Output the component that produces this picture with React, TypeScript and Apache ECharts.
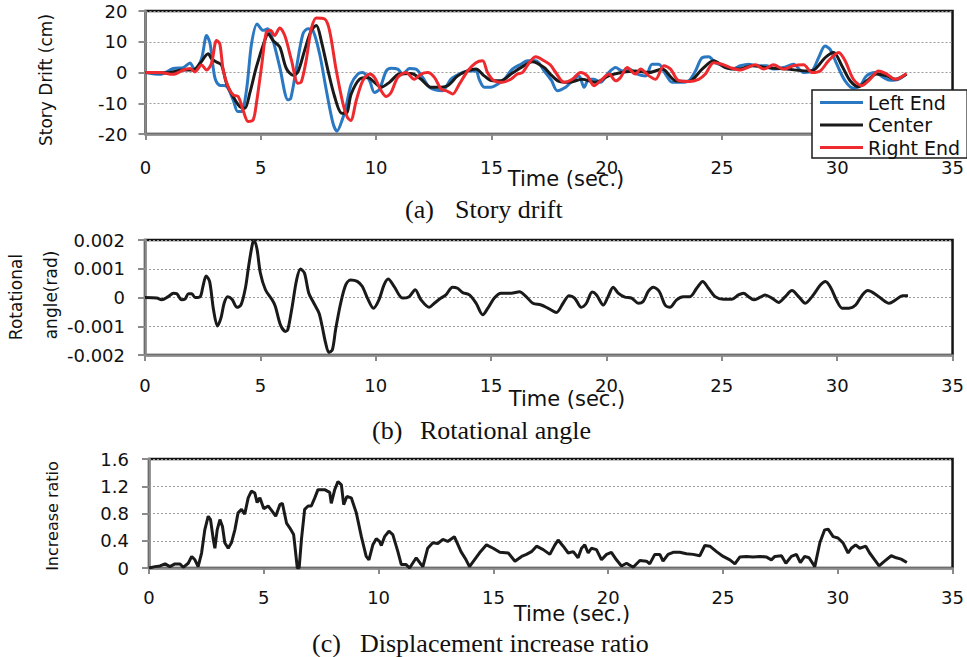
import React, { useEffect, useRef } from "react";
import * as echarts from "echarts";

// ---- Data ----
const timeTicks = [0, 5, 10, 15, 20, 25, 30, 35];
const driftTicks = [-20, -10, 0, 10, 20];
const rotTicks = [-0.002, -0.001, 0, 0.001, 0.002];
const ratioTicks = [0, 0.4, 0.8, 1.2, 1.6];
const legendNames = ["Left End", "Center", "Right End"];

// (a) Story drift (cm) vs time (s)
const leftEnd: number[][] = [
  [0, 0], [0.63, -0.6], [1.2, 1.3], [1.64, 1.6], [1.93, 3.1], [2.14, 0.8], [2.43, 4.5], [2.65, 12], [2.8, 9.4],
  [3.0, -1.4], [3.2, -4.1], [3.5, -4.4], [3.8, -8.9], [4.0, -12.7], [4.16, -12.7], [4.38, -5.7], [4.6, 9.4],
  [4.84, 15.8], [5.1, 13.7], [5.3, 14.2], [5.53, 10.4], [5.82, 1.8], [6.18, -8.9], [6.3, -8.4], [6.54, 1.3],
  [6.83, 12.6], [7.05, 14.2], [7.26, 13.7], [7.55, 6.1], [7.84, -5.7], [8.13, -16.5], [8.3, -19.1], [8.55, -15],
  [8.7, -11], [8.92, -3.8], [9.21, -0.5], [9.42, 0], [9.72, -2.7], [9.93, -6.5], [10.15, -5.4], [10.44, 0.5],
  [10.65, 1.4], [10.94, 1.1], [11.16, -0.5], [11.45, 1.3], [11.73, 1.1], [12.02, -1.6], [12.31, -4.8], [12.6, -5.7],
  [12.88, -5.9], [13.24, -2.2], [13.61, -0.5], [13.97, 0.5], [14.33, 0.5], [14.47, -2.2], [14.69, -4.8], [14.98, -4.8],
  [15.27, -3.8], [15.56, -2.2], [15.91, 1.1], [16.28, 2.7], [16.57, 3.8], [16.93, 3.8], [17.29, 0.5], [17.6, -2.5],
  [17.86, -5.9], [18.22, -4.8], [18.51, -2.7], [18.8, -1.1], [19.02, -4.8], [19.23, -2.2], [19.45, -2.2], [19.74, -3.2],
  [20.03, -0.5], [20.39, 1.6], [20.68, 0.5], [20.96, 1.1], [21.33, -0.5], [21.69, -1.1], [21.97, 2.7], [22.26, 2.7],
  [22.55, -0.5], [22.84, -3.2], [23.2, -3.2], [23.56, -2.7], [23.85, 0.5], [24.14, 4.8], [24.43, 5.1], [24.71, 3.2],
  [25.07, 2.2], [25.44, 1.1], [25.8, 2.2], [26.16, 2.7], [26.52, 2.2], [26.95, 2.2], [27.24, 1.1], [27.67, 1.6],
  [28.1, 2.7], [28.54, 0], [28.9, 0.5], [29.19, 4.8], [29.47, 8.6], [29.69, 7.5], [29.98, 2.7], [30.34, -2.7],
  [30.7, -5.1], [30.99, -4.3], [31.27, -1.1], [31.64, 0], [32.0, -1.6], [32.29, -2.5], [32.65, -2.2], [33.0, -0.5],
];

const center: number[][] = [
  [0, 0], [0.92, -0.1], [1.64, 0.8], [2.07, 0.8], [2.36, 2.9], [2.72, 6.1], [2.86, 4.5], [3.08, 3.4], [3.3, 2.4],
  [3.51, -3.5], [3.8, -7.8], [4.09, -11.1], [4.31, -11.6], [4.52, -6.8], [4.81, 1.8], [5.17, 10.4], [5.32, 12.6],
  [5.53, 10.4], [5.82, 8.3], [6.11, 1.3], [6.4, -0.9], [6.61, 0.2], [6.9, 7.2], [7.19, 13.7], [7.41, 15.3],
  [7.62, 10.4], [7.91, 0.8], [8.2, -7.8], [8.49, -13.2], [8.7, -13.3], [8.92, -7], [9.28, -2.2], [9.64, -1.6],
  [9.93, -3.2], [10.22, -4.8], [10.58, -3.2], [11.0, -0.5], [11.52, -0.3], [11.95, -2.2], [12.38, -4.8], [12.67, -4.8],
  [13.1, -4.3], [13.54, -1.1], [13.97, 0.5], [14.33, 1.1], [14.69, -1.1], [15.05, -2.7], [15.41, -2.7], [15.85, -0.5],
  [16.28, 1.6], [16.78, 3.5], [17.29, 1.6], [17.55, -0.5], [17.94, -2.9], [18.37, -3.2], [18.94, -2.2], [19.52, -3.2],
  [20.08, -1.1], [20.66, 0], [21.24, 0.5], [21.83, 0], [22.41, 1.1], [22.98, -2.7], [23.56, -2.9], [24.14, 1.1],
  [24.64, 3.8], [25.15, 1.6], [25.73, 1.1], [26.3, 2.2], [26.95, 1.6], [27.82, 1.1], [28.68, 0.5], [29.04, 1.1],
  [29.47, 4.8], [29.84, 6.5], [30.2, 2.2], [30.56, -2.7], [30.92, -4.6], [31.28, -2.7], [31.71, -0.5], [32.14, -1.1],
  [32.51, -2.2], [33.0, -0.5],
];

const rightEnd: number[][] = [
  [0, 0], [0.63, 0], [1.2, -0.6], [1.64, 0.8], [1.93, 1.3], [2.14, 0.2], [2.43, 2.4], [2.65, 0.8], [2.86, 2.9],
  [3.08, 10.4], [3.22, 9.4], [3.37, 0.8], [3.58, -4.6], [3.8, -7.3], [4.02, -7.8], [4.23, -12.2], [4.45, -15.9],
  [4.67, -15.4], [4.81, -10], [5.03, 1.8], [5.24, 13.1], [5.42, 13.7], [5.6, 12], [5.82, 14.5], [6.04, 12],
  [6.33, 4], [6.61, -3.5], [6.76, -3], [6.97, 4], [7.19, 14.2], [7.41, 17.7], [7.77, 17.4], [7.98, 13.7],
  [8.27, 0.8], [8.56, -10], [8.75, -14.5], [8.9, -15.6], [9.14, -9.1], [9.42, -2.7], [9.72, -0.5], [9.93, -1.6],
  [10.22, -5.9], [10.44, -7.8], [10.65, -6.5], [10.94, -1.6], [11.3, 0], [11.66, -2.2], [11.95, -0.5], [12.24, 0],
  [12.53, -1.6], [12.82, -5.4], [13.1, -6.1], [13.32, -7], [13.61, -3.8], [13.97, 0.5], [14.33, 3.2], [14.62, 3.8],
  [14.83, 0], [15.12, -2.7], [15.48, -3.2], [15.84, -2.2], [16.13, -0.5], [16.35, 0], [16.64, 3.2], [16.93, 5.1],
  [17.29, 3.8], [17.55, 2.5], [17.79, 0], [18.15, -3.2], [18.51, -2.2], [18.87, 0], [19.16, -1.1], [19.45, -4.3],
  [19.74, -2.7], [20.1, -0.5], [20.39, -2.7], [20.6, -1.6], [20.89, 1.6], [21.25, -0.5], [21.47, 1.1], [21.83, -1.1],
  [22.12, -2.2], [22.48, 2.2], [22.77, 1.1], [23.13, -2.7], [23.56, -2.9], [23.99, -2.2], [24.28, -0.5], [24.64, 3.2],
  [25.0, 2.7], [25.36, 1.6], [25.8, 0.8], [26.16, 1.8], [26.45, 2.5], [26.81, 1.1], [27.24, 2.5], [27.67, 1.1],
  [28.1, 2.2], [28.54, 2.5], [28.9, 0], [29.26, 0.5], [29.62, 3.8], [30.06, 6.5], [30.34, 3.8], [30.7, -2.2],
  [31.06, -4.3], [31.42, -2.2], [31.79, 0.5], [32.15, -0.5], [32.51, -2.2], [32.8, -1.4], [33.0, -0.3],
];

// (b) Rotational angle (rad) vs time (s)
const rotation: number[][] = [
  [0, 0], [0.51, -0.00002], [0.72, -0.00008], [1.01, 0.00003], [1.23, 0.00015], [1.38, 0.00013], [1.59, -0.00008],
  [1.74, -0.00005], [1.88, 0.00013], [2.03, 0.00013], [2.17, 0], [2.39, 0.00003], [2.51, 0.00038], [2.65, 0.00075],
  [2.8, 0.00056], [2.97, -0.00043], [3.14, -0.00099], [3.29, -0.00072], [3.43, -0.0002], [3.58, 0.00003],
  [3.77, -0.00006], [3.99, -0.00034], [4.16, -0.00026], [4.35, 0.00032], [4.49, 0.00108], [4.67, 0.00191],
  [4.75, 0.00195], [4.86, 0.00166], [5.0, 0.00085], [5.22, 0.00027], [5.51, -0.00008], [5.65, -0.00031],
  [5.87, -0.00095], [6.09, -0.00118], [6.19, -0.00112], [6.38, -0.00031], [6.57, 0.00061], [6.74, 0.00099],
  [6.91, 0.00085], [7.1, 0.00015], [7.32, -0.0002], [7.54, -0.00054], [7.68, -0.00101], [7.83, -0.00159],
  [7.97, -0.00191], [8.12, -0.00182], [8.26, -0.00112], [8.48, -0.0002], [8.7, 0.00044], [8.91, 0.00061],
  [9.2, 0.00056], [9.42, 0.00038], [9.64, -0.00002], [9.9, -0.00037], [10.14, -0.00008], [10.36, 0.00044],
  [10.54, 0.00064], [10.8, 0.00038], [11.16, -0.00002], [11.45, 0.00003], [11.71, 0.00027], [11.96, -0.00008],
  [12.32, -0.00034], [12.54, -0.0002], [12.83, -0.00002], [13.04, 0.00009], [13.33, 0.00036], [13.55, 0.00032],
  [13.77, 0.00017], [14.06, 0.00009], [14.35, -0.0002], [14.64, -0.0006], [14.86, -0.00037], [15.14, -0.00002],
  [15.43, 0.00015], [15.87, 0.00015], [16.23, 0.0002], [16.52, 0.00003], [16.81, -0.0002], [17.17, -0.00026],
  [17.46, -0.00037], [17.83, -0.00052], [18.12, -0.0002], [18.38, 0.00006], [18.62, -0.00002], [18.91, -0.00034],
  [19.13, -0.0002], [19.38, 0.00019], [19.57, 0.00009], [19.86, -0.00026], [20.07, 0.00003], [20.29, 0.00036],
  [20.51, 0.00015], [20.8, 0.00001], [21.09, -0.00002], [21.38, -0.0002], [21.59, -0.00014], [21.81, 0.00021],
  [22.03, 0.00036], [22.29, 0.00021], [22.54, -0.00026], [22.75, -0.00034], [23.04, -0.00008], [23.33, 0.00003],
  [23.62, 0.00003], [23.91, 0.00032], [24.17, 0.00056], [24.42, 0.00032], [24.71, 0.00003], [25.07, -0.00006],
  [25.43, -0.00006], [25.72, 0.00009], [25.94, 0.00015], [26.16, 0.00003], [26.38, -0.00008], [26.67, 0.00001],
  [26.88, 0.00009], [27.17, -0.00002], [27.46, -0.00017], [27.75, 0.00003], [28.04, 0.00024], [28.33, 0.00003],
  [28.62, -0.0002], [28.91, 0.00003], [29.28, 0.00044], [29.49, 0.00056], [29.71, 0.00036], [30.0, -0.00014],
  [30.22, -0.00037], [30.51, -0.00037], [30.8, -0.00026], [31.09, 0.00009], [31.33, 0.00024], [31.59, 0.00015],
  [31.88, -0.00002], [32.25, -0.0002], [32.54, -0.00008], [32.83, 0.00006], [33.07, 0.00006],
];

// (c) Displacement increase ratio vs time (s)
const increaseRatio: number[][] = [
  [0, 0], [0.26, 0.02], [0.48, 0.03], [0.7, 0.06], [0.91, 0.02], [1.13, 0.06], [1.35, 0.06], [1.49, 0.01],
  [1.71, 0.07], [1.86, 0.17], [2.0, 0.12], [2.14, 0.02], [2.29, 0.22], [2.43, 0.56], [2.58, 0.76], [2.68, 0.71],
  [2.8, 0.42], [2.87, 0.29], [2.97, 0.56], [3.09, 0.71], [3.2, 0.61], [3.3, 0.37], [3.45, 0.29], [3.59, 0.37],
  [3.74, 0.56], [3.88, 0.81], [4.03, 0.86], [4.17, 0.79], [4.32, 1.03], [4.46, 1.13], [4.61, 1.1], [4.71, 0.96],
  [4.83, 1.03], [5.0, 0.87], [5.19, 0.91], [5.33, 0.85], [5.52, 0.76], [5.7, 0.93], [5.81, 0.95], [5.99, 0.66],
  [6.13, 0.59], [6.3, 0.49], [6.46, 0], [6.54, 0], [6.64, 0.42], [6.78, 0.86], [6.93, 0.91], [7.07, 0.91],
  [7.22, 1.03], [7.36, 1.15], [7.65, 1.15], [7.87, 1.11], [7.94, 0.95], [8.09, 1.15], [8.23, 1.27], [8.38, 1.22],
  [8.48, 0.93], [8.62, 1.05], [8.81, 1.03], [9.03, 0.81], [9.25, 0.46], [9.46, 0.17], [9.58, 0.12], [9.75, 0.34],
  [9.9, 0.43], [10.04, 0.39], [10.12, 0.33], [10.26, 0.46], [10.45, 0.54], [10.62, 0.49], [10.84, 0.24], [10.99, 0.05],
  [11.2, 0.05], [11.35, 0], [11.64, 0.15], [11.81, 0.07], [11.93, 0.02], [12.14, 0.29], [12.36, 0.37], [12.58, 0.36],
  [12.8, 0.42], [13.01, 0.39], [13.3, 0.46], [13.59, 0.24], [13.81, 0.12], [13.96, 0.02], [14.39, 0.22], [14.7, 0.34],
  [14.99, 0.29], [15.28, 0.23], [15.65, 0.22], [15.94, 0.1], [16.23, 0.17], [16.44, 0.2], [16.66, 0.24], [16.88, 0.32],
  [17.17, 0.27], [17.46, 0.2], [17.68, 0.34], [17.82, 0.41], [18.04, 0.32], [18.26, 0.22], [18.48, 0.24], [18.69, 0.15],
  [18.84, 0.29], [18.98, 0.34], [19.13, 0.22], [19.27, 0.29], [19.49, 0.27], [19.71, 0.12], [19.93, 0.2], [20.14, 0.23],
  [20.36, 0.12], [20.58, 0.03], [20.8, 0.07], [21.09, 0.01], [21.38, 0.11], [21.67, 0.1], [21.81, 0.06], [22.03, 0.2],
  [22.25, 0.2], [22.39, 0.1], [22.61, 0.2], [22.83, 0.23], [23.12, 0.23], [23.41, 0.21], [23.7, 0.2], [23.99, 0.18],
  [24.21, 0.33], [24.43, 0.32], [24.72, 0.24], [25.01, 0.17], [25.3, 0.12], [25.52, 0.06], [25.73, 0.16], [26.02, 0.17],
  [26.31, 0.16], [26.61, 0.17], [26.9, 0.16], [27.11, 0.12], [27.26, 0.17], [27.55, 0.18], [27.74, 0.07], [27.98, 0.17],
  [28.2, 0.2], [28.37, 0.08], [28.56, 0.17], [28.75, 0.15], [29.0, 0.02], [29.22, 0.37], [29.43, 0.56], [29.58, 0.57],
  [29.8, 0.46], [30.01, 0.44], [30.23, 0.37], [30.45, 0.22], [30.59, 0.29], [30.78, 0.34], [30.96, 0.29], [31.22, 0.32],
  [31.39, 0.22], [31.61, 0.12], [31.8, 0.03], [32.04, 0.1], [32.33, 0.18], [32.55, 0.15], [32.76, 0.13], [33.01, 0.08],
];

// ---- Styling helpers ----
const SANS = "DejaVu Sans";
const SERIF = "Liberation Serif";
const AXIS_GRAY = "#8a8a8a";
const BORDER = "#141414";

function xAxisFor(gridIndex: number, margin: number) {
  return {
    type: "value",
    gridIndex,
    min: timeTicks[0],
    max: timeTicks[timeTicks.length - 1],
    interval: timeTicks[1] - timeTicks[0],
    position: "bottom",
    axisLine: { show: true, onZero: false, lineStyle: { color: AXIS_GRAY, width: 2.5 } },
    axisTick: { show: true, length: 6, lineStyle: { color: AXIS_GRAY, width: 2 } },
    splitLine: { show: false },
    axisLabel: { fontSize: 18, fontFamily: SANS, color: "#111", margin },
  };
}

function yAxisFor(gridIndex: number, ticks: number[], margin: number, fmt: (v: number) => string) {
  return {
    type: "value",
    gridIndex,
    min: ticks[0],
    max: ticks[ticks.length - 1],
    interval: ticks[1] - ticks[0],
    axisLine: { show: true, onZero: false, lineStyle: { color: AXIS_GRAY, width: 2.5 } },
    axisTick: { show: true, length: 7, lineStyle: { color: AXIS_GRAY, width: 2 } },
    splitLine: { show: true, lineStyle: { color: "#9c9c9c", width: 1.2, type: [2, 2] } },
    axisLabel: { fontSize: 18, fontFamily: SANS, color: "#111", margin, formatter: fmt },
  };
}

function vText(text: string, x: number, y: number, size: number) {
  return {
    type: "text",
    x,
    y,
    rotation: Math.PI / 2,
    style: {
      text,
      fontSize: size,
      fontFamily: SANS,
      fill: "#111",
      textAlign: "center",
      align: "center",
      textVerticalAlign: "middle",
      verticalAlign: "middle",
    },
  };
}

function hText(text: string, x: number, y: number, size: number, family: string, align = "center") {
  return {
    type: "text",
    x,
    y,
    style: {
      text,
      fontSize: size,
      fontFamily: family,
      fill: "#111",
      textAlign: align,
      align,
      textVerticalAlign: "middle",
      verticalAlign: "middle",
    },
  };
}

export default function App() {
  const ref = useRef<HTMLDivElement>(null);

  useEffect(() => {
    if (!ref.current) return;
    const chart = echarts.init(ref.current, undefined, { renderer: "svg" });
    const lineSeries = (name: string, data: number[][], color: string, idx: number, smooth: number | boolean) => ({
      type: "line",
      name,
      xAxisIndex: idx,
      yAxisIndex: idx,
      data,
      symbol: "none",
      showSymbol: false,
      smooth,
      lineStyle: { color, width: 3 },
      itemStyle: { color },
      emphasis: { disabled: true },
    });
    chart.setOption({
      animation: false,
      backgroundColor: "#ffffff",
      grid: [
        { left: 145.5, top: 11, width: 808.5, height: 123, show: true, borderColor: BORDER, borderWidth: 2.5, containLabel: false },
        { left: 145, top: 240, width: 808, height: 115, show: true, borderColor: BORDER, borderWidth: 2.5, containLabel: false },
        { left: 149, top: 459, width: 804, height: 109, show: true, borderColor: BORDER, borderWidth: 2.5, containLabel: false },
      ],
      xAxis: [xAxisFor(0, 24), xAxisFor(1, 21), xAxisFor(2, 20)],
      yAxis: [
        yAxisFor(0, driftTicks, 18, (v: number) => String(Math.round(v))),
        yAxisFor(1, rotTicks, 20, (v: number) => (Math.abs(v) < 1e-9 ? "0" : v.toFixed(3))),
        yAxisFor(2, ratioTicks, 20, (v: number) => (Math.abs(v) < 1e-9 ? "0" : v.toFixed(1))),
      ],
      legend: {
        data: legendNames,
        orient: "vertical",
        left: 812,
        top: 90,
        padding: [3, 7, 1, 8],
        icon: "rect",
        itemWidth: 43,
        itemHeight: 3,
        itemGap: 3.5,
        backgroundColor: "#ffffff",
        borderColor: "#1a1a1a",
        borderWidth: 1.5,
        borderRadius: 0,
        textStyle: { fontSize: 19, fontFamily: SANS, color: "#111", lineHeight: 19 },
      },
      series: [
        lineSeries(legendNames[0], leftEnd, "#2a78c2", 0, 0.3),
        lineSeries(legendNames[1], center, "#1a1a1a", 0, 0.3),
        lineSeries(legendNames[2], rightEnd, "#ee2a2e", 0, 0.3),
        lineSeries("Rotational angle", rotation, "#1a1a1a", 1, 0.3),
        lineSeries("Increase ratio", increaseRatio, "#1a1a1a", 2, false),
      ],
      graphic: [
        vText("Story Drift (cm)", 46, 80, 17),
        vText("Rotational", 15.5, 297, 17),
        vText("angle(rad)", 50.5, 295, 17),
        vText("Increase ratio", 52, 516, 16),
        hText("Time (sec.)", 566, 179, 21, SANS),
        hText("Time (sec.)", 567, 399, 21, SANS),
        hText("Time (sec.)", 572, 614, 21, SANS),
        hText("(a)", 405, 209, 26, SERIF, "left"),
        hText("Story drift", 455, 209, 26, SERIF, "left"),
        hText("(b)", 372, 430, 26, SERIF, "left"),
        hText("Rotational angle", 420, 430, 26, SERIF, "left"),
        hText("(c)", 312, 643, 26, SERIF, "left"),
        hText("Displacement increase ratio", 360, 643, 26, SERIF, "left"),
      ],
    });
    return () => chart.dispose();
  }, []);

  return (
    <div
      ref={ref}
      style={{ position: "fixed", left: 0, top: 0, width: 967, height: 657, background: "#fff" }}
    />
  );
}
